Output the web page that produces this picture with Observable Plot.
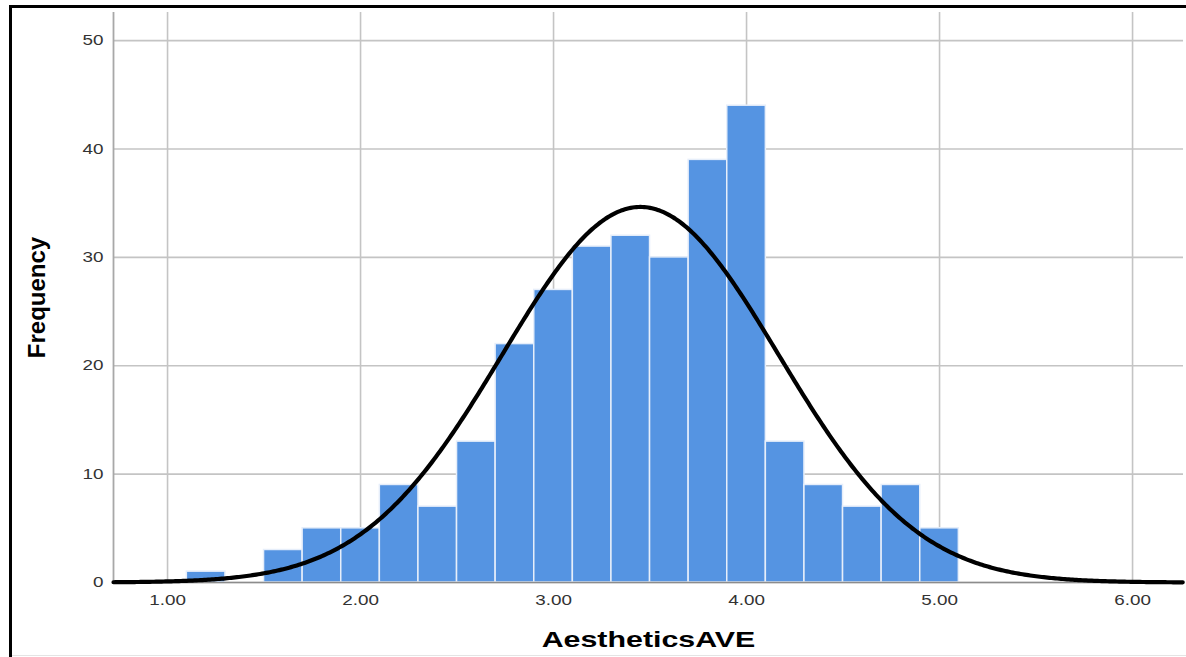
<!DOCTYPE html>
<html>
<head>
<meta charset="utf-8">
<script src="https://cdn.jsdelivr.net/npm/d3@7"></script>
<script src="https://cdn.jsdelivr.net/npm/@observablehq/plot@0.6"></script>
<style>
  html, body { margin: 0; padding: 0; background: #fff; }
  #frame { position: relative; width: 1186px; height: 657px; overflow: hidden; background: #fff; }
  #frame svg { position: absolute; left: 0; top: 0; }
  .bl { position: absolute; left: 9px; top: 5px; width: 3px; height: 652px; background: #000; z-index: 2; }
  .bt { position: absolute; left: 9px; top: 5px; width: 1177px; height: 3px; background: #000; z-index: 2; }
  .bb { position: absolute; left: 12px; top: 655px; width: 1174px; height: 1px; background: #e4e4e4; z-index: 2; }
</style>
</head>
<body>
<div id="frame"><div class="bl"></div><div class="bt"></div><div class="bb"></div></div>
<script>
// Histogram bins (lower edges) and frequencies
const binLower = [1.1, 1.3, 1.5, 1.7, 1.9, 2.1, 2.3, 2.5, 2.7, 2.9, 3.1, 3.3, 3.5, 3.7, 3.9, 4.1, 4.3, 4.5, 4.7, 4.9];
const binWidth = 0.2;
const counts   = [1, 0, 3, 5, 5, 9, 7, 13, 22, 27, 31, 32, 30, 39, 44, 13, 9, 7, 9, 5];

// Axis ticks
const xTicks = [1, 2, 3, 4, 5, 6];
const xTickLabels = ["1.00", "2.00", "3.00", "4.00", "5.00", "6.00"];
const yTicks = [0, 10, 20, 30, 40, 50];

// Fitted normal curve parameters (SPSS-style overlay)
const curveMean = 3.45;
const curveSD = 0.716;
const curveN = 311;

const xDomain = [0.72, 6.264];
const yDomain = [0, 52.6];

const bins = binLower.map((lo, i) => ({x1: lo, x2: lo + binWidth, count: counts[i]}));

const curveX = d3.range(xDomain[0], xDomain[1] + 0.0001, 0.01);
const curve = curveX.map(x => ({
  x,
  y: curveN * binWidth / (curveSD * Math.sqrt(2 * Math.PI)) * Math.exp(-0.5 * ((x - curveMean) / curveSD) ** 2)
}));

const chart = Plot.plot({
  width: 1186,
  height: 657,
  marginLeft: 113,
  marginRight: 3,
  marginTop: 12,
  marginBottom: 75,
  style: {fontFamily: "'Liberation Sans', Arial, sans-serif", fontSize: "14px", color: "#333", background: "transparent", overflow: "visible"},
  x: {domain: xDomain},
  y: {domain: yDomain},
  marks: [
    Plot.gridX(xTicks, {stroke: "#c4c4c4", strokeOpacity: 1, strokeWidth: 1.6}),
    Plot.gridY(yTicks, {stroke: "#c4c4c4", strokeOpacity: 1, strokeWidth: 1.6}),
    Plot.rectY(bins, {x1: "x1", x2: "x2", y: "count", fill: "#5594e2", stroke: "#e6eefa", strokeWidth: 1.5}),
    Plot.ruleY([0], {stroke: "#8c8c8c", strokeWidth: 1.5}),
    Plot.ruleX([xDomain[0]], {stroke: "#a8a8a8", strokeWidth: 1.8}),
    Plot.line(curve, {x: "x", y: "y", stroke: "#000", strokeWidth: 4.2, curve: "linear"}),
    Plot.axisX(xTicks, {tickSize: 0, tickPadding: 12, tickFormat: (d, i) => xTickLabels[i], label: "AestheticsAVE", labelAnchor: "center", labelOffset: 64, fill: "#333"}),
    Plot.axisY(yTicks, {tickSize: 0, tickPadding: 10, label: "Frequency", labelAnchor: "center", labelOffset: 86, fill: "#333"})
  ]
});

document.getElementById("frame").appendChild(chart);

// Emulate the horizontally stretched look of the original raster text
function stretch(sel, sx) {
  sel.each(function() {
    const w = this.getComputedTextLength();
    if (w > 0) {
      this.setAttribute("textLength", (w * sx).toFixed(2));
      this.setAttribute("lengthAdjust", "spacingAndGlyphs");
    }
  });
}
const svg = d3.select(chart);
svg.selectAll("text").each(function() {
  // drop the default axis-label arrows
  if (this.textContent.includes("→") || this.textContent.includes("↑")) {
    d3.select(this).selectAll("tspan").each(function() { this.textContent = this.textContent.replace(/\s*[→↑]\s*/g, ""); });
    if (!this.children.length) this.textContent = this.textContent.replace(/\s*[→↑]\s*/g, "");
  }
});
const xTickText = svg.selectAll('[aria-label="x-axis tick label"] text');
const yTickText = svg.selectAll('[aria-label="y-axis tick label"] text');
xTickText.style("font-size", "14.5px");
yTickText.style("font-size", "14.5px");
stretch(xTickText, 1.3);
stretch(yTickText, 1.3);

const xLab = svg.selectAll('[aria-label="x-axis label"] text');
xLab.style("font-size", "22px").style("font-weight", "bold").style("fill", "#000");
stretch(xLab, 1.38);

const yLab = svg.selectAll('[aria-label="y-axis label"] text');
yLab.style("font-size", "24px").style("font-weight", "bold").style("fill", "#000");
</script>
</body>
</html>
